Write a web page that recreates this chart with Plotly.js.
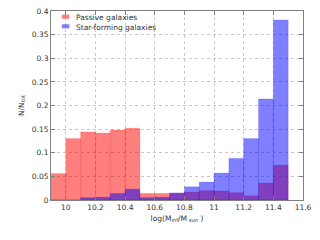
<!DOCTYPE html>
<html>
<head>
<meta charset="utf-8">
<script src="https://cdn.plot.ly/plotly-3.0.1.min.js"></script>
<style>html,body{margin:0;padding:0;background:#fff;}#chart{width:320px;height:240px;}</style>
</head>
<body>
<div id="chart"></div>
<script>
// Bin centres of log(M_inf/M_sun), bin width 0.1
const binCenters = [9.95, 10.05, 10.15, 10.25, 10.35, 10.45, 10.55, 10.65, 10.75, 10.85, 10.95, 11.05, 11.15, 11.25, 11.35, 11.45];
const binWidth = 0.1;
const passive = [0.056, 0.130, 0.144, 0.142, 0.148, 0.152, 0.014, 0.014, 0.014, 0.017, 0.020, 0.019, 0.0155, 0.009, 0.036, 0.074];
const starForming = [0, 0, 0.005, 0.006, 0.014, 0.023, 0.005, 0.006, 0.015, 0.028, 0.038, 0.057, 0.088, 0.130, 0.214, 0.381];
const seriesNames = ["Passive galaxies", "Star-forming galaxies"];
const xTicks = [10, 10.2, 10.4, 10.6, 10.8, 11, 11.2, 11.4, 11.6];
const yTicks = [0, 0.05, 0.1, 0.15, 0.2, 0.25, 0.3, 0.35, 0.4];

const fontFamily = "DejaVu Sans, sans-serif";
const fills = ["rgba(255,0,0,0.5)", "rgba(0,0,255,0.5)"];
const edges = ["rgba(255,0,0,0.25)", "rgba(0,0,255,0.25)"];
const traces = [passive, starForming].map((vals, i) => ({
  type: "bar", x: binCenters, y: vals, width: binWidth, name: seriesNames[i],
  marker: {color: fills[i], line: {color: edges[i], width: 0.6}}
}));

// Legend (drawn as paper-anchored swatches + text, gnuplot-style compact key)
const keyRows = [0.970, 0.919];
const legendShapes = seriesNames.map((n, i) => ({
  type: "rect", xref: "paper", yref: "paper",
  x0: 0.043, x1: 0.073, y0: keyRows[i] - 0.0106, y1: keyRows[i] + 0.0106,
  fillcolor: fills[i], line: {width: 0}
}));
const legendTexts = seriesNames.map((n, i) => ({
  xref: "paper", yref: "paper", x: 0.091, y: keyRows[i] - 0.004,
  xanchor: "left", yanchor: "middle", text: n, showarrow: false,
  font: {family: fontFamily, size: 7.5, color: "#333"}
}));

const axisCommon = {
  showline: true, linecolor: "#808080", linewidth: 1, mirror: "allticks",
  ticks: "inside", ticklen: 4, tickcolor: "#808080",
  showgrid: true, gridcolor: "#c8c8c8", griddash: "dot", gridwidth: 1,
  zeroline: false, automargin: false,
  tickfont: {family: fontFamily, size: 7.5, color: "#333"}
};
const layout = {
  width: 320, height: 240,
  margin: {l: 51, r: 17, t: 11, b: 40},
  paper_bgcolor: "#fff", plot_bgcolor: "#fff",
  barmode: "overlay", bargap: 0,
  font: {family: fontFamily, size: 7.5, color: "#333"},
  showlegend: false,
  shapes: legendShapes,
  annotations: legendTexts,
  xaxis: Object.assign({}, axisCommon, {
    range: [9.9, 11.6], tickvals: xTicks, ticktext: xTicks.map(String),
    title: {text: "log(M<sub>inf</sub>/M<sub> sun</sub> )", font: {family: fontFamily, size: 7.5, color: "#333"}, standoff: 4}
  }),
  yaxis: Object.assign({}, axisCommon, {
    range: [0, 0.4], tickvals: yTicks, ticktext: yTicks.map(String),
    title: {text: "N/N<sub>tot</sub>", font: {family: fontFamily, size: 7.5, color: "#333"}, standoff: 6}
  })
};
Plotly.newPlot("chart", traces, layout, {staticPlot: true, displayModeBar: false});
</script>
</body>
</html>
